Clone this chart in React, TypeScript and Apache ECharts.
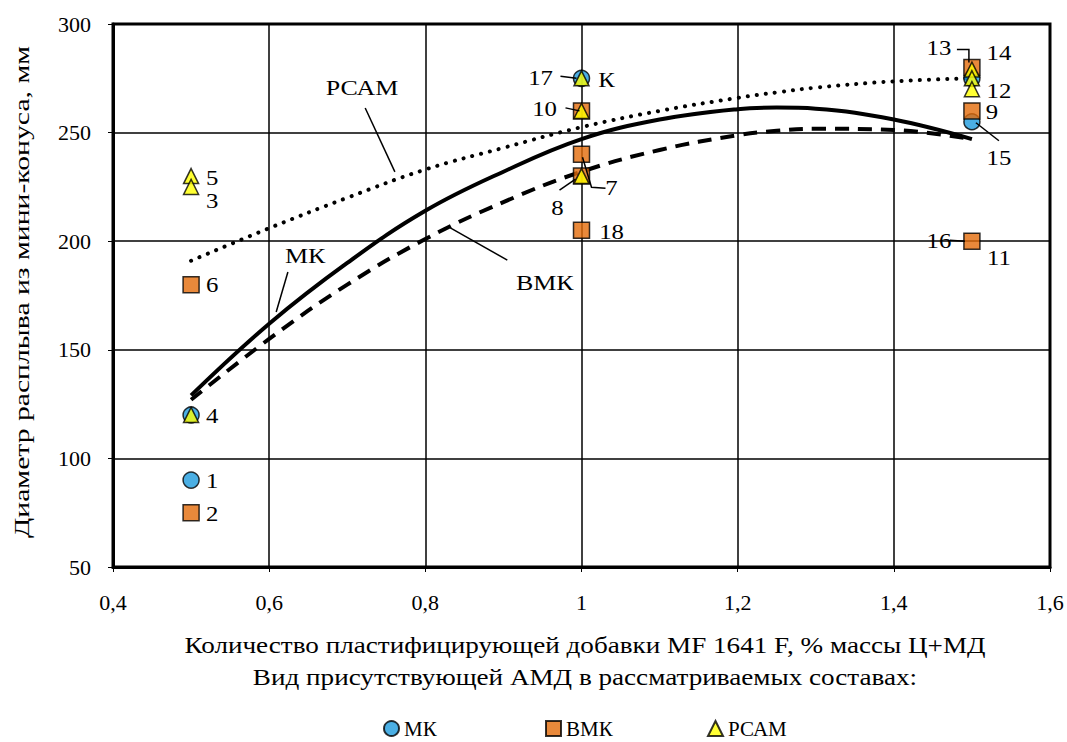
import React, { useEffect, useRef } from "react";
import * as echarts from "echarts";

// ---- data ----
const mkPoints: [number, number][] = [[0.5, 90], [0.5, 120], [1.0, 275], [1.5, 275], [1.5, 255]];
const bmkPoints: [number, number][] = [[0.5, 75], [0.5, 180], [1.0, 260], [1.0, 240], [1.0, 230], [1.0, 205], [1.5, 280], [1.5, 260], [1.5, 200]];
const pcamPoints: [number, number][] = [[0.5, 230], [0.5, 225], [0.5, 120], [1.0, 275], [1.0, 260], [1.0, 230], [1.5, 279], [1.5, 275], [1.5, 270]];

const trendX = [0.5, 0.6, 0.7, 0.8, 0.9, 1.0, 1.1, 1.2, 1.25, 1.3, 1.4, 1.5];
const mkTrend = [129, 162, 190, 214, 232, 247, 256, 260.8, 261.5, 261, 256, 247];
const bmkTrend = [127, 155, 180, 201, 218, 232, 242, 248.8, 250.8, 251.8, 251.2, 247];
const pcamTrend = [191, 206, 220, 233, 243, 252.5, 260, 266, 268.5, 270.7, 273.6, 275];

const seriesNames = ["МК", "ВМК", "РСАМ"];
const xTitle1 = "Количество пластифицирующей добавки MF 1641 F, % массы Ц+МД";
const xTitle2 = "Вид присутствующей АМД в рассматриваемых составах:";
const yTitle = "Диаметр расплыва из мини-конуса, мм";

// point labels: text, anchor x, anchor y, pixel offset
const pointLabels: [string, number, number, number, number][] = [
  ["5", 0.5, 230, 21, 2], ["3", 0.5, 225, 21, 14], ["6", 0.5, 180, 21, 1], ["4", 0.5, 120, 21, 1],
  ["1", 0.5, 90, 21, 1], ["2", 0.5, 75, 21, 1],
  ["17", 1.0, 275, -41, 0], ["К", 1.0, 275, 25, 2], ["10", 1.0, 260, -37, -2], ["7", 1.0, 240, 30, 34],
  ["8", 1.0, 230, -24, 32], ["18", 1.0, 205, 30, 2],
  ["13", 1.5, 280, -33, -19], ["14", 1.5, 280, 27, -14], ["12", 1.5, 270, 27, 2], ["9", 1.5, 260, 20, 1],
  ["15", 1.5, 255, 27, 36], ["16", 1.5, 200, -33, 0], ["11", 1.5, 200, 27, 17],
];
const pointLeaders: [number, number, [number, number][]][] = [
  [1.0, 275, [[-21, -2], [-5, 0]]],
  [1.0, 260, [[-16, -3], [-2, 0]]],
  [1.0, 240, [[1, 3], [10, 33], [24, 34]]],
  [1.0, 230, [[-22, 14], [-6, 3]]],
  [1.5, 280, [[-15, -18], [-3, -18], [-3, -5]]],
  [1.5, 255, [[4, 1], [27, 19]]],
  [1.5, 200, [[-22, -1], [-7, 0]]],
];
const curveLabels: [string, number, number][] = [["РСАМ", 0.719, 270.5], ["МК", 0.646, 193.2], ["ВМК", 0.953, 180.8]];
const curveLeaders: [number, number, number, number][] = [
  [0.723, 261.3, 0.761, 231.9], [0.624, 185.8, 0.609, 167.4], [0.832, 206.1, 0.905, 191.3],
];
const legendLefts = [378, 540, 702];

const FONT = "Liberation Serif";
const SX = 1.18;

export default function App() {
  const ref = useRef<HTMLDivElement>(null);
  useEffect(() => {
    document.body.style.margin = "0";
    const chart = echarts.init(ref.current!, null, { renderer: "svg" });
    const border = { borderColor: "#000", borderWidth: 1.5 };
    const option: any = {
      animation: false,
      backgroundColor: "#fff",
      textStyle: { fontFamily: FONT },
      grid: { left: 113, right: 17, top: 24, bottom: 175, show: true, borderColor: "#000", borderWidth: 3, backgroundColor: "transparent" },
      xAxis: {
        type: "value", min: 0.4, max: 1.6, interval: 0.2,
        axisLine: { show: true, lineStyle: { color: "#000", width: 3 } },
        axisTick: { show: true, length: 5, lineStyle: { color: "#000", width: 1 } },
        splitLine: { show: true, lineStyle: { color: "#000", width: 1.5 } },
        axisLabel: {
          margin: 24, color: "#000", fontFamily: FONT, fontSize: 22,
          formatter: (v: number) => String(Math.round(v * 10) / 10).replace(".", ","),
        },
      },
      yAxis: {
        type: "value", min: 50, max: 300, interval: 50,
        axisLine: { show: true, lineStyle: { color: "#000", width: 3 } },
        axisTick: { show: true, length: 5, lineStyle: { color: "#000", width: 1 } },
        splitLine: { show: true, lineStyle: { color: "#000", width: 1.5 } },
        axisLabel: { margin: 22, color: "#000", fontFamily: FONT, fontSize: 22 },
      },
      legend: seriesNames.map((n, i) => ({
        data: [n], left: legendLefts[i], top: 713, itemWidth: 15, itemHeight: 15,
        textStyle: { fontFamily: FONT, fontSize: 21, color: "#000" },
      })),
      series: [
        { type: "line", data: trendX.map((x, i) => [x, pcamTrend[i]]), smooth: 0.4, showSymbol: false, silent: true,
          lineStyle: { color: "#000", width: 4, type: [0.1, 9], cap: "round" }, z: 2 },
        { type: "line", data: trendX.map((x, i) => [x, mkTrend[i]]), smooth: 0.4, showSymbol: false, silent: true,
          lineStyle: { color: "#000", width: 4 }, z: 2 },
        { type: "line", data: trendX.map((x, i) => [x, bmkTrend[i]]), smooth: 0.4, showSymbol: false, silent: true,
          lineStyle: { color: "#000", width: 4, type: [14, 9] }, z: 2 },
        { name: "МК", type: "scatter", data: mkPoints, symbol: "circle", symbolSize: 16,
          itemStyle: { color: "#1E9BDD", ...border }, z: 3 },
        { name: "ВМК", type: "scatter", data: bmkPoints, symbol: "rect", symbolSize: 16,
          itemStyle: { color: "#E46C0A", ...border }, z: 4 },
        { name: "РСАМ", type: "scatter", data: pcamPoints, symbol: "triangle", symbolSize: 15,
          itemStyle: { color: "#FFFF00", ...border }, z: 5 },
      ],
    };
    chart.setOption(option);

    const px = (x: number, y: number) => chart.convertToPixel({ gridIndex: 0 }, [x, y]) as number[];
    const txt = (text: string, x: number, y: number, size: number, rot = 0, sx = SX) => ({
      type: "text", x, y, rotation: rot, scaleX: sx, z: 100,
      style: { text, fill: "#000", fontFamily: FONT, fontSize: size, align: "center", verticalAlign: "middle" },
    });
    const graphics: any[] = [];
    pointLabels.forEach(([t, x, y, dx, dy]) => {
      const p = px(x, y);
      graphics.push(txt(t, p[0] + dx, p[1] + dy, 21));
    });
    pointLeaders.forEach(([x, y, pts]) => {
      const p = px(x, y);
      graphics.push({ type: "polyline", z: 100, shape: { points: pts.map(([dx, dy]) => [p[0] + dx, p[1] + dy]) },
        style: { stroke: "#000", lineWidth: 1.5, fill: null } });
    });
    curveLabels.forEach(([t, x, y]) => {
      const p = px(x, y);
      graphics.push(txt(t, p[0], p[1], 22));
    });
    curveLeaders.forEach(([x1, y1, x2, y2]) => {
      const a = px(x1, y1), b = px(x2, y2);
      graphics.push({ type: "line", z: 100, shape: { x1: a[0], y1: a[1], x2: b[0], y2: b[1] }, style: { stroke: "#000", lineWidth: 1.5 } });
    });
    graphics.push(txt(xTitle1, 585, 645, 23));
    graphics.push(txt(xTitle2, 585, 677, 23));
    graphics.push(txt(yTitle, 22, 292, 22, Math.PI / 2, 1.35));
    chart.setOption({ graphic: graphics });

    return () => chart.dispose();
  }, []);
  return <div ref={ref} style={{ width: 1067, height: 742 }} />;
}
